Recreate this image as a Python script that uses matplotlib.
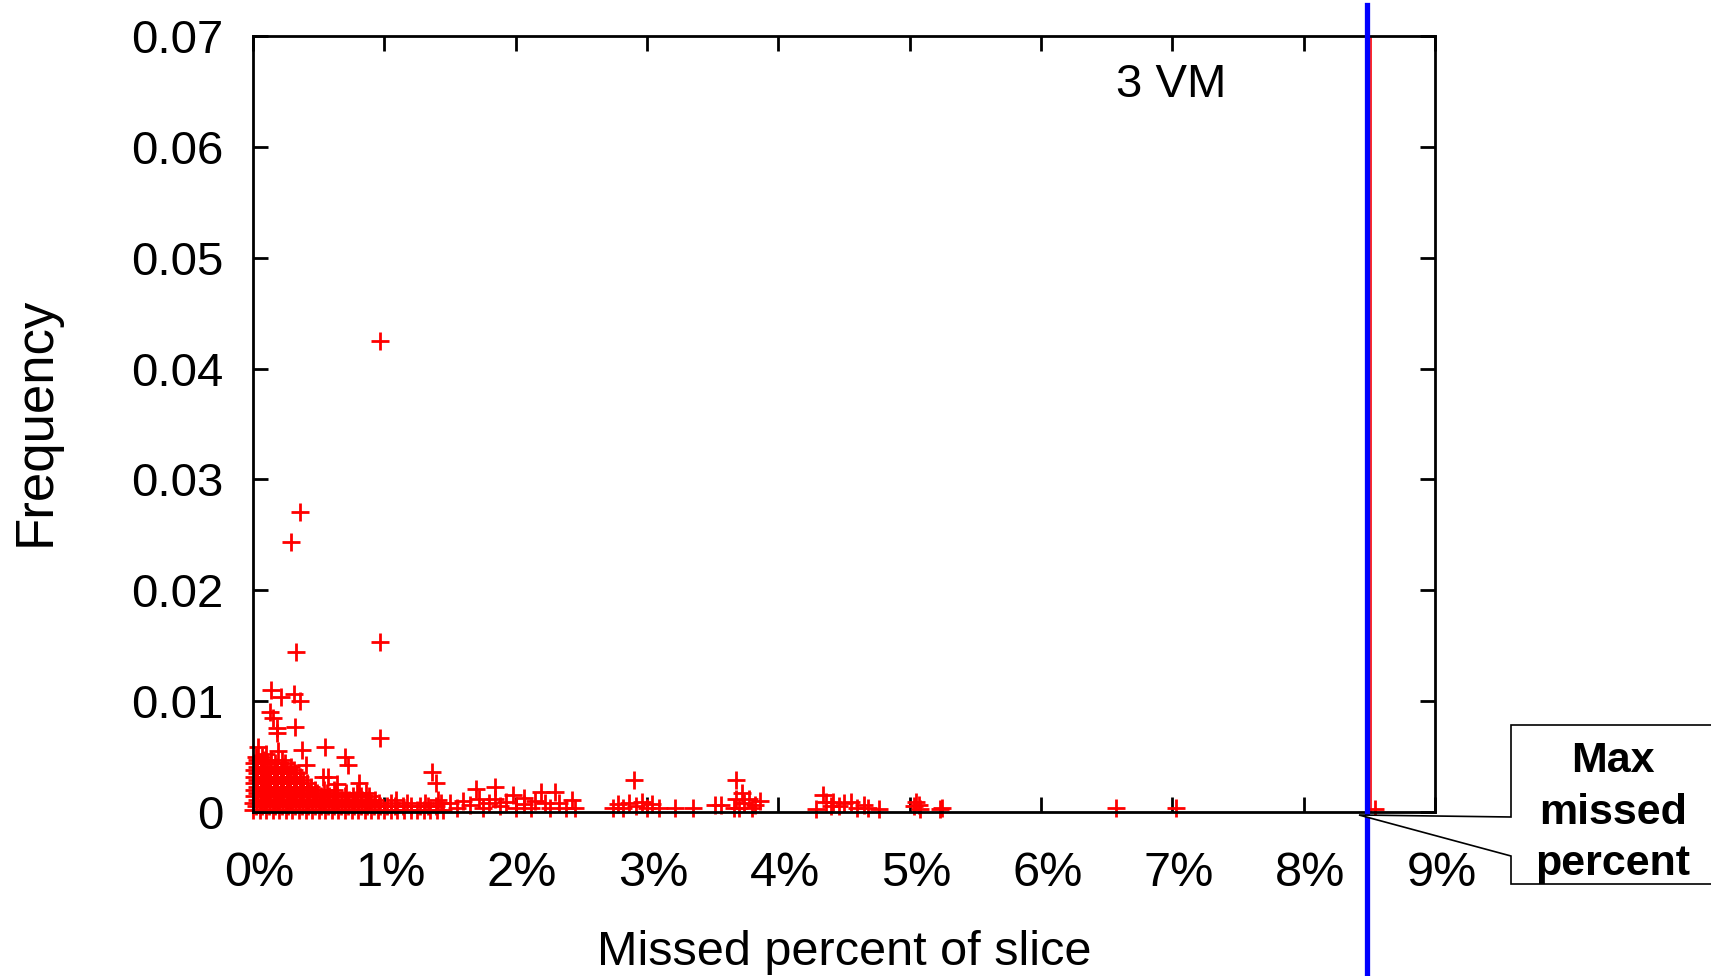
import matplotlib
matplotlib.use("Agg")
import matplotlib.pyplot as plt
from matplotlib.patches import Polygon
from matplotlib.transforms import ScaledTranslation

plt.rcParams['font.family'] = ['Liberation Sans', 'DejaVu Sans']

# dense cluster near zero: one list of missed percents per frequency level
core_levels = [0.0002, 0.0005, 0.0008, 0.0011, 0.0014, 0.0017, 0.0020, 0.0023, 0.0026,
               0.0029, 0.0032, 0.0035, 0.0038, 0.0041, 0.0044, 0.0047, 0.0050]
core_rows = [
    [0.00, 0.05, 0.10, 0.15, 0.20, 0.25, 0.30, 0.35, 0.40, 0.45, 0.50, 0.55, 0.60, 0.65, 0.70,
     0.75, 0.80, 0.85, 0.90, 0.95, 1.00, 1.05, 1.10, 1.15, 1.20, 1.25, 1.30, 1.35, 1.40, 1.45],
    [0.02, 0.07, 0.12, 0.17, 0.22, 0.27, 0.32, 0.37, 0.42, 0.47, 0.52, 0.57, 0.62, 0.67, 0.72,
     0.77, 0.82, 0.87, 0.92, 0.97, 1.02, 1.08, 1.14, 1.20, 1.27, 1.33, 1.39],
    [0.00, 0.05, 0.10, 0.15, 0.20, 0.25, 0.30, 0.35, 0.40, 0.45, 0.50, 0.55, 0.60, 0.65, 0.70,
     0.75, 0.80, 0.85, 0.90, 0.96, 1.05, 1.17, 1.31, 1.43],
    [0.03, 0.08, 0.13, 0.18, 0.23, 0.28, 0.33, 0.38, 0.43, 0.48, 0.53, 0.58, 0.63, 0.68, 0.73,
     0.78, 0.83, 0.88, 0.93, 1.09, 1.41],
    [0.01, 0.06, 0.11, 0.16, 0.21, 0.26, 0.31, 0.36, 0.41, 0.46, 0.52, 0.58, 0.64, 0.70, 0.76, 0.82, 0.88],
    [0.03, 0.08, 0.13, 0.18, 0.23, 0.28, 0.33, 0.38, 0.43, 0.49, 0.56, 0.63, 0.71, 0.79, 0.86],
    [0.01, 0.06, 0.11, 0.16, 0.21, 0.26, 0.31, 0.36, 0.41, 0.47, 0.54, 0.62],
    [0.03, 0.08, 0.13, 0.18, 0.23, 0.28, 0.33, 0.38, 0.44],
    [0.01, 0.06, 0.11, 0.16, 0.21, 0.26, 0.31, 0.36, 0.41],
    [0.03, 0.08, 0.13, 0.18, 0.23, 0.28, 0.33, 0.38],
    [0.01, 0.06, 0.11, 0.16, 0.21, 0.26, 0.31, 0.36],
    [0.03, 0.08, 0.13, 0.18, 0.23, 0.28, 0.33],
    [0.01, 0.06, 0.11, 0.16, 0.21, 0.26, 0.31],
    [0.03, 0.08, 0.13, 0.18, 0.23, 0.29],
    [0.01, 0.06, 0.11, 0.17, 0.24],
    [0.03, 0.08, 0.14, 0.22],
    [0.02, 0.07],
]

# scattered higher points
spike_x = [0.04, 0.10, 0.19, 0.13, 0.15, 0.18, 0.18, 0.32, 0.14, 0.21, 0.31, 0.36, 0.37, 0.40,
           0.33, 0.29, 0.36, 0.55, 0.53, 0.57, 0.70, 0.72, 0.81, 0.64, 0.97, 0.97, 0.97, 1.36, 1.39]
spike_y = [0.0059, 0.0052, 0.0055, 0.0090, 0.0085, 0.0076, 0.0071, 0.0077, 0.0110, 0.0104, 0.0106, 0.0100, 0.0056, 0.0042,
           0.0144, 0.0244, 0.0271, 0.0059, 0.0032, 0.0032, 0.0050, 0.0042, 0.0026, 0.0025, 0.0425, 0.0153, 0.0067, 0.0036, 0.0026]

# long tail
tail_x = [1.50, 1.55, 1.60, 1.65, 1.70, 1.72, 1.75, 1.80, 1.84, 1.84, 1.88, 1.93, 1.98, 2.00, 2.06, 2.06, 2.12,
          2.15, 2.19, 2.22, 2.26, 2.30, 2.33, 2.38, 2.43, 2.45,
          2.74, 2.78, 2.82, 2.86, 2.90, 2.92, 2.96, 3.00, 3.04, 3.09, 3.21, 3.35, 3.52, 3.56, 3.66, 3.68,
          3.68, 3.72, 3.74, 3.78, 3.82, 3.86, 3.70, 3.80,
          4.29, 4.34, 4.36, 4.40, 4.42, 4.46, 4.50, 4.55, 4.60, 4.65, 4.68, 4.77, 5.03, 5.05, 5.07, 5.08,
          5.25, 5.23, 6.57, 7.03, 8.54]
tail_y = [0.0008, 0.0004, 0.0010, 0.0006, 0.0021, 0.0012, 0.0004, 0.0008, 0.0023, 0.0012, 0.0005, 0.0009, 0.0015,
          0.0004, 0.0013, 0.0007, 0.0004, 0.0010, 0.0018, 0.0008, 0.0004, 0.0018, 0.0008, 0.0004, 0.0011, 0.0004,
          0.0004, 0.0007, 0.0004, 0.0008, 0.0029, 0.0005, 0.0009, 0.0004, 0.0007, 0.0004, 0.0004, 0.0004, 0.0006,
          0.0006, 0.0004, 0.0029, 0.0012, 0.0017, 0.0008, 0.0012, 0.0006, 0.0010, 0.0004, 0.0004,
          0.0003, 0.0015, 0.0009, 0.0005, 0.0009, 0.0005, 0.0008, 0.0009, 0.0004, 0.0006, 0.0004, 0.0003,
          0.0005, 0.0009, 0.0006, 0.0003, 0.0004, 0.0003, 0.0004, 0.0004, 0.0003]

max_missed = 8.48
red_mark = 8.51
x_ticks = [0, 1, 2, 3, 4, 5, 6, 7, 8, 9]
y_ticks = [0, 0.01, 0.02, 0.03, 0.04, 0.05, 0.06, 0.07]
y_labels = ["0", "0.01", "0.02", "0.03", "0.04", "0.05", "0.06", "0.07"]

core_x = [x for row in core_rows for x in row]
core_y = [lvl for lvl, row in zip(core_levels, core_rows) for _ in row]

W, H = 1711, 976
fig = plt.figure(figsize=(W / 100, H / 100), dpi=100)
ax = fig.add_axes([253 / W, 1 - 812 / H, 1182 / W, 776 / H])

for xs, ys in [(core_x, core_y), (spike_x, spike_y), (tail_x, tail_y)]:
    ax.plot(xs, ys, linestyle='none', marker='+', ms=13, mew=2.0, color='#ff0000', clip_on=False)

ax.axvline(red_mark, color='#ff0000', lw=1.2)
ax.axvline(max_missed, ymin=(812 - 976) / 776, ymax=(812 - 4.7) / 776,
           color='#0000ff', lw=3.8, clip_on=False, zorder=5)

ax.set_xlim(0, 9)
ax.set_ylim(0, 0.07)
ax.set_xticks(x_ticks)
ax.set_xticklabels([f"{v}%" for v in x_ticks])
ax.set_yticks(y_ticks)
ax.set_yticklabels(y_labels)
ax.tick_params(direction='in', length=10.8, width=2, top=True, right=True)
ax.tick_params(axis='x', pad=28, labelsize=35)
ax.tick_params(axis='y', pad=21.6, labelsize=34)
for lab in ax.get_xticklabels():
    lab.set_transform(lab.get_transform() + ScaledTranslation(0.065, 0, fig.dpi_scale_trans))
for sp in ax.spines.values():
    sp.set_linewidth(2)

ax.set_xlabel('Missed percent of slice', fontsize=35)
ax.xaxis.set_label_coords(0.5, (812 - 965) / 776)
ax.xaxis.label.set_va('baseline')
ax.set_ylabel('Frequency', fontsize=38)
ax.yaxis.set_label_coords((50 - 253) / 1182, 0.503)
ax.yaxis.label.set_va('baseline')

ax.text(0.777, (812 - 97) / 776, '3 VM', transform=ax.transAxes, ha='center', va='baseline', fontsize=34)

# callout box pointing at the max line
pts = [(1359, 815), (1511, 817), (1511, 725), (1720, 725), (1720, 884), (1511, 884), (1511, 856)]
callout = Polygon([(px / W, 1 - py / H) for px, py in pts], closed=True, transform=fig.transFigure,
                  facecolor='white', edgecolor='black', lw=1.2, clip_on=False)
fig.add_artist(callout)
fig.text(1613 / W, 1 - 875 / H, "Max\nmissed\npercent", ha='center', va='baseline', fontsize=31,
         fontweight='bold', linespacing=1.37, multialignment='center')

fig.savefig('out.png', dpi=100)
